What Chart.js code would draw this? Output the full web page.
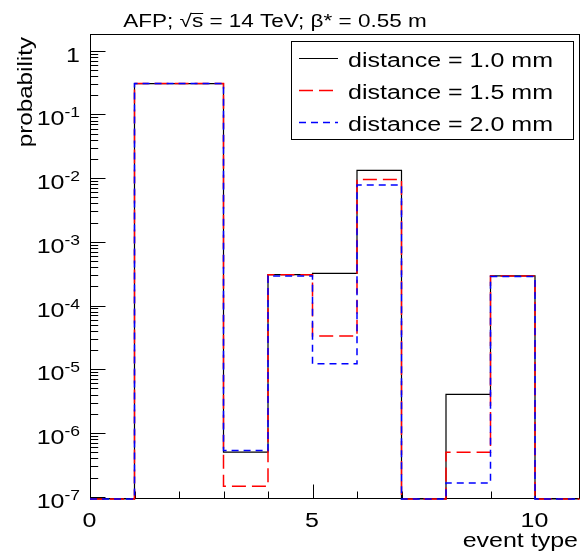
<!DOCTYPE html>
<html><head><meta charset="utf-8">
<script src="https://cdn.jsdelivr.net/npm/chart.js@4.4.0/dist/chart.umd.min.js"></script>
<style>html,body{margin:0;padding:0;background:#fff;} canvas{display:block;}</style>
</head><body>
<canvas id="c" width="582" height="556"></canvas>
<script>
// ---- data ----
const binEdges = [0,1,2,3,4,5,6,7,8,9,10,11];
const dist10 = [0, 0.305, 0.305, 5.0e-7, 3.05e-4, 3.2e-4, 1.32e-2, 0, 4.05e-6, 2.92e-4, 0];
const dist15 = [0, 0.305, 0.305, 1.46e-7, 3.05e-4, 3.34e-5, 9.5e-3, 0, 5.0e-7, 2.9e-4, 0];
const dist20 = [0, 0.305, 0.305, 5.3e-7, 2.9e-4, 1.22e-5, 7.8e-3, 0, 1.64e-7, 2.85e-4, 0];
const seriesLabels = ['distance = 1.0 mm', 'distance = 1.5 mm', 'distance = 2.0 mm'];
const yTickExps = [0, -1, -2, -3, -4, -5, -6, -7];
const xMajorTicks = [0, 5, 10];
const xMinorTicks = [1, 2, 3, 4, 6, 7, 8, 9];
const titleParts = ['AFP; ', '\u221A', 's', ' = 14 TeV; \u03B2* = 0.55 m'];
const xTitle = 'event type';
const yTitle = 'probability';
const Y_MIN = 9.2e-8, Y_MAX = 1.83;

const FONT = '"Liberation Sans", Arial, Helvetica, sans-serif';
const K = 1.25; // horizontal glyph widening seen in the reference

function toSteps(vals) {
  const pts = vals.map((v, i) => ({x: binEdges[i], y: v > 0 ? v : Y_MIN}));
  const last = vals[vals.length - 1];
  pts.push({x: binEdges[binEdges.length - 1], y: last > 0 ? last : Y_MIN});
  return pts;
}

function measure(ctx, s, size, k) {
  ctx.save(); ctx.font = size + 'px ' + FONT;
  const w = ctx.measureText(s).width * k; ctx.restore(); return w;
}
function txt(ctx, s, x, y, size, align, k, rot) {
  k = k || K;
  ctx.save();
  ctx.font = size + 'px ' + FONT;
  ctx.textBaseline = 'alphabetic';
  ctx.textAlign = 'left';
  ctx.fillStyle = '#000';
  const w = ctx.measureText(s).width * k;
  ctx.translate(x, y);
  if (rot) ctx.rotate(rot);
  const dx = align === 'right' ? -w : (align === 'center' ? -w / 2 : 0);
  ctx.translate(dx, 0);
  ctx.scale(k, 1);
  ctx.fillText(s, 0, 0);
  ctx.restore();
  return w;
}

const frameAxes = {
  id: 'frameAxes',
  beforeDatasetsDraw(chart) {
    const ctx = chart.ctx, a = chart.chartArea;
    const xs = chart.scales.x, ys = chart.scales.y;
    ctx.save();
    ctx.strokeStyle = '#000';
    ctx.lineWidth = 1;
    const L = Math.round(a.left) + 0.5, R = Math.round(a.right) - 0.5;
    const T = Math.round(a.top) + 0.5, B = Math.round(a.bottom) - 0.5;
    ctx.strokeRect(L, T, R - L, B - T);
    ctx.beginPath();
    // y ticks
    yTickExps.forEach(e => {
      const p = Math.round(ys.getPixelForValue(Math.pow(10, e))) + 0.5;
      ctx.moveTo(L, p); ctx.lineTo(L + 15, p);
      for (let m = 2; m <= 9; m++) {
        const v = m * Math.pow(10, e);
        if (v > Y_MAX || v < Y_MIN) continue;
        const q = Math.round(ys.getPixelForValue(v)) + 0.5;
        ctx.moveTo(L, q); ctx.lineTo(L + 7.7, q);
      }
    });
    xMajorTicks.forEach(v => {
      const p = Math.round(xs.getPixelForValue(v)) + 0.5;
      ctx.moveTo(p, B); ctx.lineTo(p, B - 14);
    });
    xMinorTicks.forEach(v => {
      const p = Math.round(xs.getPixelForValue(v)) + 0.5;
      ctx.moveTo(p, B); ctx.lineTo(p, B - 7);
    });
    ctx.stroke();
    ctx.restore();
  },
  afterDraw(chart) {
    const ctx = chart.ctx;
    const xs = chart.scales.x, ys = chart.scales.y;
    // y tick labels
    const rightX = 80;
    yTickExps.forEach(e => {
      const p = ys.getPixelForValue(Math.pow(10, e));
      const base = p + 11;
      if (e === 0) {
        txt(ctx, '1', rightX, base, 20, 'right');
      } else {
        const sup = String(e);
        const ws = measure(ctx, sup, 14, K);
        const wm = measure(ctx, '10', 20, K);
        txt(ctx, '10', rightX - ws - wm, base, 20, 'left');
        txt(ctx, sup, rightX - ws, base - 8, 14, 'left');
      }
    });
    // x tick labels
    xMajorTicks.forEach(v => {
      txt(ctx, String(v), xs.getPixelForValue(v) - 0.5, 527, 20, 'center');
    });
    // axis titles
    txt(ctx, xTitle, 578, 547, 20, 'right', 1.25);
    txt(ctx, yTitle, 32, 37, 20, 'right', 1.21, -Math.PI / 2);
    // title
    const tsize = 18;
    const widths = titleParts.map(s => measure(ctx, s, tsize, K));
    const total = widths.reduce((p, c) => p + c, 0);
    let x = 275 - total / 2;
    const tb = 27;
    titleParts.forEach((s, i) => {
      txt(ctx, s, x, tb, tsize, 'left');
      if (i === 2) {
        ctx.save(); ctx.strokeStyle = '#000'; ctx.lineWidth = 1;
        ctx.beginPath(); ctx.moveTo(x - 1, 13.5); ctx.lineTo(x + widths[i], 13.5); ctx.stroke();
        ctx.restore();
      }
      x += widths[i];
    });
    // legend
    ctx.save();
    ctx.fillStyle = '#fff';
    ctx.fillRect(291.5, 41.5, 282, 98);
    ctx.strokeStyle = '#000'; ctx.lineWidth = 1;
    ctx.strokeRect(291.5, 41.5, 282, 98);
    const rows = [57.7, 90, 122.3];
    chart.data.datasets.forEach((ds, i) => {
      ctx.save();
      ctx.strokeStyle = ds.borderColor;
      ctx.lineWidth = ds.borderWidth;
      ctx.setLineDash(ds.borderDash || []);
      ctx.beginPath();
      ctx.moveTo(299, Math.round(rows[i]) + 0.5);
      ctx.lineTo(338, Math.round(rows[i]) + 0.5);
      ctx.stroke();
      ctx.restore();
      txt(ctx, ds.label, 348, rows[i] + 9, 20, 'left');
    });
    ctx.restore();
  }
};

new Chart(document.getElementById('c'), {
  type: 'line',
  data: {
    datasets: [
      {label: seriesLabels[0], data: toSteps(dist10), borderColor: '#000000', borderWidth: 1.2, stepped: true, pointRadius: 0, fill: false, order: 3, clip: false},
      {label: seriesLabels[1], data: toSteps(dist15), borderColor: '#ff0000', borderWidth: 1.5, borderDash: [14, 6], stepped: true, pointRadius: 0, fill: false, order: 2, clip: false},
      {label: seriesLabels[2], data: toSteps(dist20), borderColor: '#0000ff', borderWidth: 1.5, borderDash: [7, 5], stepped: true, pointRadius: 0, fill: false, order: 1, clip: false}
    ]
  },
  options: {
    responsive: false,
    animation: false,
    devicePixelRatio: 1,
    layout: {padding: {left: 90, right: 2.5, top: 34, bottom: 57}},
    plugins: {legend: {display: false}, title: {display: false}, tooltip: {enabled: false}},
    scales: {
      x: {type: 'linear', min: 0, max: 11, bounds: 'data', display: false},
      y: {type: 'logarithmic', min: Y_MIN, max: Y_MAX, bounds: 'data', display: false}
    }
  },
  plugins: [frameAxes]
});
</script>
</body></html>
